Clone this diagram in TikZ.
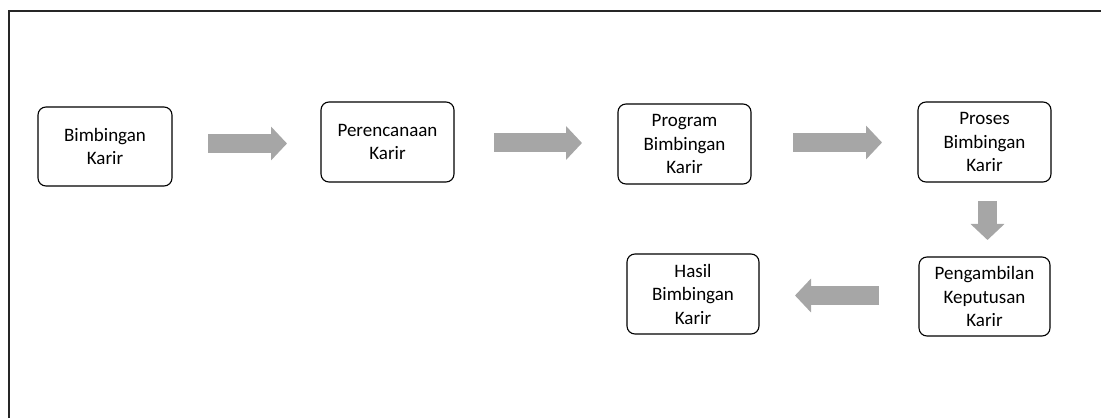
\documentclass[tikz,border=0pt]{standalone}
\usepackage{fontspec}
\setmainfont{Carlito}
\usetikzlibrary{arrows.meta}
\definecolor{arrowgray}{HTML}{A6A6A6}
\begin{document}
\begin{tikzpicture}[x=1pt,y=1pt,
  stepbox/.style={draw=black, line width=1.1pt, rounded corners=8pt, fill=white,
    minimum width=133pt, minimum height=80pt, inner sep=0pt, align=center,
    font=\fontsize{19}{23.5}\selectfont},
  blockarrow/.style={draw=arrowgray, line width=19pt,
    -{Triangle[width=33pt,length=16pt,fill=arrowgray]}},
  frameline/.style={draw=black!85, line width=1.3pt}]
\useasboundingbox (0,0) rectangle (1101,418);
\draw[frameline] (9,0) -- (9,407) -- (1101,407);
\node[stepbox, minimum width=134pt, minimum height=79pt] (b1) at (105,271.5) {Bimbingan\\Karir};
\node[stepbox] (b2) at (387.5,276) {Perencanaan\\Karir};
\node[stepbox] (b3) at (684.5,274) {Program\\Bimbingan\\Karir};
\node[stepbox] (b4) at (984.5,276) {Proses\\Bimbingan\\Karir};
\node[stepbox, minimum width=131pt, minimum height=79pt] (b5) at (984.5,121.5) {Pengambilan\\Keputusan\\Karir};
\node[stepbox, minimum width=132pt] (b6) at (693,124) {Hasil\\Bimbingan\\Karir};
\coordinate (a1s) at (208,274.5);
\coordinate (a1e) at (287,274.5);
\coordinate (a2s) at (494,275);
\coordinate (a2e) at (582,275);
\coordinate (a3s) at (793,275.5);
\coordinate (a3e) at (882,275.5);
\coordinate (a4s) at (987.5,217);
\coordinate (a4e) at (987.5,178);
\coordinate (a5s) at (879,122.5);
\coordinate (a5e) at (795,122.5);
\draw[blockarrow] (a1s) -- (a1e);
\draw[blockarrow] (a2s) -- (a2e);
\draw[blockarrow] (a3s) -- (a3e);
\draw[blockarrow] (a4s) -- (a4e);
\draw[blockarrow] (a5s) -- (a5e);
\end{tikzpicture}
\end{document}
